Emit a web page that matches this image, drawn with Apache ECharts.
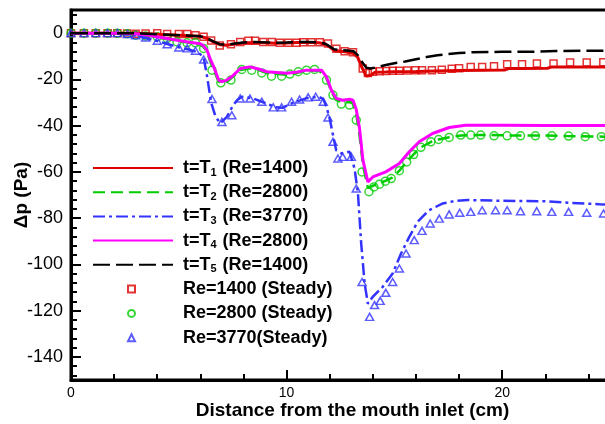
<!DOCTYPE html>
<html>
<head>
<meta charset="utf-8">
<script src="https://cdn.jsdelivr.net/npm/echarts@6/dist/echarts.min.js"></script>
<style>html,body{margin:0;padding:0;background:#fff}#c{width:605px;height:424px}</style>
</head>
<body>
<div id="c"></div>
<script>
// ---- tick labels ----
const xMajorTicks = [0, 10, 20];
const yMajorTicks = [-140, -120, -100, -80, -60, -40, -20, 0];

// ---- series names ----
const lineNames = ['t=T1 (Re=1400)', 't=T2 (Re=2800)', 't=T3 (Re=3770)', 't=T4 (Re=2800)', 't=T5 (Re=1400)'];
const steadyNames = ['Re=1400 (Steady)', 'Re=2800 (Steady)', 'Re=3770(Steady)'];

// ---- unsteady curves [x (cm), dp (Pa)] ----
const t1 = [[0,0],[1,0],[2,0],[3,-0.1],[3.5,-0.3],[4,-0.5],[4.5,-0.7],[5,-0.9],[5.5,-1.1],[6,-1.4],[6.3,-2.2],[6.6,-3.8],[6.9,-5.0],[7.2,-5.2],[7.6,-4.7],[8,-4.3],[8.5,-4.0],[9,-4.2],[9.5,-4.4],[10,-4.3],[10.5,-4.1],[11,-4.0],[11.5,-4.2],[11.8,-4.8],[12.0,-6.0],[12.2,-7.4],[12.5,-7.8],[12.8,-8.2],[13.1,-8.8],[13.3,-10.5],[13.5,-15],[13.7,-18.6],[13.9,-18.2],[14.1,-16.9],[14.6,-16.8],[15,-16.7],[16,-16.6],[17,-16.4],[18,-16.2],[19,-16.1],[20.1,-16.0],[20.3,-15.3],[21,-15.3],[22.1,-15.2],[22.3,-14.6],[23,-14.6],[24,-14.6],[25,-14.6]];
const t2 = [[0,0],[2,0],[3,-0.4],[3.5,-1],[4,-1.8],[4.5,-2.7],[5,-3.5],[5.5,-4.2],[6,-5],[6.15,-6],[6.31,-8],[6.45,-12],[6.62,-16],[6.85,-21],[7.0,-21.6],[7.23,-21],[7.5,-19],[7.85,-16],[8.3,-15.2],[8.7,-16],[9.08,-17.3],[10,-18],[10.5,-17.2],[10.92,-16.3],[11.5,-16.2],[11.85,-19.5],[12.08,-25.5],[12.3,-29],[12.6,-30],[12.92,-29.8],[13.08,-30.5],[13.23,-35],[13.38,-44],[13.54,-57],[13.77,-67],[14.0,-66],[14.3,-65],[14.6,-63.8],[14.9,-62.5],[15.23,-59.5],[15.57,-55.7],[15.9,-52.3],[16.23,-49.4],[16.7,-47],[17.05,-46],[17.54,-45],[18.1,-44.3],[19,-44],[20,-44.2],[22,-44.3],[23,-44.5],[25,-44.8]];
const t3 = [[0,0],[1,0],[2,-0.2],[2.5,-0.5],[3,-1.0],[3.5,-2.2],[4,-3.4],[4.5,-4.8],[5,-6.1],[5.5,-7.2],[5.9,-8.3],[6.15,-10.5],[6.3,-18],[6.5,-30],[6.7,-36],[6.92,-39],[7.23,-36.2],[7.5,-31.5],[7.7,-29],[7.92,-27.5],[8.46,-28.3],[9.0,-30.2],[9.5,-32.1],[9.8,-32.3],[10.3,-30.1],[10.9,-28.2],[11.5,-27.5],[11.7,-28.5],[11.85,-31.9],[12.0,-37],[12.15,-44],[12.3,-50.6],[12.54,-52],[12.92,-51.3],[13.15,-58.5],[13.31,-69.3],[13.46,-91],[13.62,-108.3],[13.77,-117],[13.85,-117.6],[14.0,-114],[14.46,-109.7],[14.92,-103.9],[15.31,-95.3],[15.69,-88.1],[16.08,-81.6],[16.6,-76.6],[17.23,-73.7],[17.85,-72.5],[18.4,-72.2],[20,-72.5],[22,-72.7],[23.2,-73.4],[24.5,-74],[25,-74.2]];
const t4 = [[0,0],[2,0],[3,-0.3],[3.5,-0.8],[4,-1.6],[4.5,-2.4],[5,-3.2],[5.5,-3.9],[6,-4.6],[6.15,-5.5],[6.31,-7.4],[6.45,-11],[6.62,-14.6],[6.85,-20.3],[7.0,-21],[7.23,-20.3],[7.5,-18.5],[7.85,-15.3],[8.3,-14.6],[8.7,-15.5],[9.08,-16.7],[10.0,-17.4],[10.5,-16.8],[10.92,-16],[11.62,-16],[11.85,-18.9],[12.08,-24.7],[12.3,-28.2],[12.6,-29],[12.92,-28.6],[13.08,-29],[13.23,-33],[13.38,-41],[13.54,-54.9],[13.77,-64.3],[14.0,-62.2],[14.6,-60],[15.23,-56.4],[15.69,-51.3],[16.15,-47],[16.77,-43.4],[17.54,-40.8],[18.3,-39.8],[20,-39.8],[22,-39.9],[25,-39.9]];
const t5 = [[0,0],[1,0],[2,0],[3,-0.1],[3.5,-0.3],[4,-0.5],[4.5,-0.7],[5,-0.9],[5.5,-1.1],[6,-1.4],[6.3,-2.2],[6.6,-3.6],[6.9,-4.8],[7.2,-5.0],[7.6,-4.5],[8,-4.1],[8.5,-3.8],[9,-4.0],[9.5,-4.2],[10,-4.1],[10.5,-3.9],[11,-3.8],[11.5,-4.0],[11.8,-4.6],[12.0,-5.8],[12.2,-7.0],[12.5,-7.4],[12.8,-7.5],[13.1,-7.8],[13.3,-9.5],[13.5,-12.5],[13.7,-15],[13.9,-15.3],[14.2,-14.7],[14.6,-13.8],[15,-13],[15.5,-12.3],[16,-11.3],[16.5,-10.3],[17,-9.6],[17.5,-9],[18,-8.6],[18.6,-8.3],[20,-8.1],[21.5,-8.1],[22.5,-7.7],[25,-7.6]];

// ---- steady data [x (cm), dp (Pa)] ----
const steady1400 = [[0,0],[0.6,0],[1.15,0],[1.7,0],[2.15,-0.1],[2.6,-0.2],[3.0,-0.3],[3.46,-0.2],[4.0,-0.1],[4.46,-0.4],[5.0,-0.4],[5.39,-0.4],[5.77,-0.9],[6.15,-1.6],[6.5,-3.2],[6.9,-5.4],[7.42,-4.8],[7.85,-3.8],[8.23,-3.3],[8.54,-3.3],[8.92,-3.8],[9.31,-3.8],[9.69,-4.2],[10.08,-4.2],[10.46,-4.2],[10.77,-3.9],[11.15,-3.9],[11.54,-3.9],[11.92,-4.5],[12.31,-6.8],[12.69,-7.8],[13.08,-8.3],[13.53,-15.3],[13.77,-17.2],[14.0,-16.7],[14.31,-16.5],[14.62,-16.4],[14.92,-16.3],[15.23,-16.3],[15.6,-16.2],[15.97,-16.1],[16.28,-16.0],[16.74,-16.0],[17.2,-15.8],[17.66,-15.4],[18.0,-15.2],[18.54,-14.6],[19.07,-14.6],[19.62,-14.3],[20.23,-13.5],[20.92,-13.5],[21.61,-13.1],[22.38,-13.1],[23.15,-12.7],[23.92,-12.7],[24.69,-12.6]];
const steady2800 = [[0,0],[0.6,0],[1.15,0],[1.7,0],[2.15,-0.1],[2.6,-0.3],[3.0,-0.9],[3.46,-1.2],[4.0,-1.6],[4.46,-2.3],[4.92,-3.8],[5.38,-4.2],[5.77,-4.2],[6.15,-6.6],[6.54,-16],[6.95,-21.5],[7.42,-20.3],[7.92,-15.7],[8.38,-16],[8.85,-17.2],[9.3,-18.6],[9.77,-18.6],[10.15,-17.7],[10.54,-16.7],[10.92,-16],[11.3,-15.7],[11.85,-20.3],[12.15,-26.8],[12.54,-30.7],[12.92,-31.1],[13.23,-37.6],[13.5,-60],[13.82,-68.6],[14.05,-66.5],[14.31,-65.3],[14.58,-64],[14.85,-62.9],[15.23,-59.5],[15.57,-55.7],[15.89,-52.5],[16.23,-49.4],[16.69,-47],[17.05,-46],[17.54,-45.1],[18.08,-44.1],[18.54,-44.1],[19.0,-44.1],[19.62,-44.4],[20.23,-44.4],[20.85,-44.4],[21.54,-44.4],[22.3,-44.4],[23.08,-44.5],[23.85,-44.8],[24.6,-44.8]];
const steady3770 = [[0,0],[0.61,0],[1.15,0],[1.69,0],[2.15,0],[2.62,-0.4],[3.0,-0.9],[3.46,-1.9],[4.0,-3.3],[4.46,-4.8],[5.0,-6.2],[5.39,-6.6],[5.77,-7.6],[6.15,-11.4],[6.54,-28.5],[7.0,-38.4],[7.46,-35.5],[7.85,-28.3],[8.3,-28.3],[8.85,-29.7],[9.38,-32.1],[9.77,-32.1],[10.23,-29.7],[10.6,-28.7],[11.0,-27.8],[11.35,-27.5],[11.7,-29.7],[11.92,-36.5],[12.15,-47],[12.38,-54.2],[12.6,-53.5],[13.0,-53.5],[13.23,-67.2],[13.5,-107.6],[13.85,-122.7],[14.08,-117.6],[14.34,-115.8],[14.6,-112.3],[14.92,-107.6],[15.23,-101.8],[15.54,-95.3],[15.92,-89.5],[16.28,-85.5],[16.66,-82.3],[17.08,-80.2],[17.54,-78.4],[18.03,-77.7],[18.54,-77.3],[19.07,-76.6],[19.69,-76.6],[20.23,-76.6],[20.85,-77],[21.6,-77],[22.3,-77.3],[23.08,-77.3],[23.92,-77.7],[24.7,-78]];

// ---- minor tick values ----
const xMinorTicks = [];
for (let v = 2; v <= 24; v += 2) if (v % 10 !== 0) xMinorTicks.push(v);
const yMinorTicks = [];
for (let v = -148; v <= 8; v += 4) if (v % 20 !== 0) yMinorTicks.push(v);

const FONT = 'Liberation Sans, Arial, Helvetica, sans-serif';
const chart = echarts.init(document.getElementById('c'), null, {renderer: 'canvas'});

function subFmt(name) {
  const m = name.match(/^t=T(\d)(.*)$/);
  if (!m) return '{b|' + name + '}';
  return '{b|t=T}{s|' + m[1] + '}{b|' + m[2] + '}';
}

const tickStyle = {color: '#000', width: 2};
const option = {
  animation: false,
  grid: {left: 71, top: 10, right: -5, bottom: 44, outerBoundsMode: 'none', containLabel: false,
         show: true, borderColor: '#000', borderWidth: 3, backgroundColor: 'transparent'},
  xAxis: [
    {type: 'value', min: 0, max: 25, position: 'bottom',
     axisLine: {onZero: false, lineStyle: {color: '#000', width: 3}},
     axisTick: {inside: true, length: 10, lineStyle: tickStyle, customValues: xMajorTicks},
     axisLabel: {customValues: xMajorTicks, fontSize: 14, color: '#000', margin: 6, fontFamily: FONT},
     splitLine: {show: false},
     name: 'Distance from the mouth inlet (cm)', nameLocation: 'middle', nameGap: 21, nameMoveOverlap: false,
     nameTextStyle: {fontSize: 19, fontWeight: 'bold', color: '#000', fontFamily: FONT, padding: [0, 0, 0, 24]}},
    {type: 'value', min: 0, max: 25, position: 'bottom',
     axisLine: {show: false, onZero: false},
     axisTick: {inside: true, length: 6, lineStyle: tickStyle, customValues: xMinorTicks},
     axisLabel: {show: false}, splitLine: {show: false}}
  ],
  yAxis: [
    {type: 'value', min: -150, max: 10, position: 'left',
     axisLine: {onZero: false, lineStyle: {color: '#000', width: 3}},
     axisTick: {inside: true, length: 10, lineStyle: tickStyle, customValues: yMajorTicks},
     axisLabel: {customValues: yMajorTicks, fontSize: 18, color: '#000', margin: 8, fontFamily: FONT},
     splitLine: {show: false},
     name: 'Δp (Pa)', nameLocation: 'middle', nameGap: 40, nameMoveOverlap: false,
     nameTextStyle: {fontSize: 19, fontWeight: 'bold', color: '#000', fontFamily: FONT}},
    {type: 'value', min: -150, max: 10, position: 'left',
     axisLine: {show: false, onZero: false},
     axisTick: {inside: true, length: 6, lineStyle: tickStyle, customValues: yMinorTicks},
     axisLabel: {show: false}, splitLine: {show: false}}
  ],
  legend: [
    {data: lineNames, orient: 'vertical', left: 92, top: 158, padding: 0, itemWidth: 80, itemHeight: 14, itemGap: 4.2,
     selectedMode: false, formatter: subFmt,
     itemStyle: {color: 'rgba(0,0,0,0)', borderColor: 'rgba(0,0,0,0)', borderWidth: 0, opacity: 0},
     textStyle: {color: '#000', padding: [0, 0, 0, 5],
       rich: {b: {fontSize: 18, fontWeight: 'bold', color: '#000', fontFamily: FONT, lineHeight: 20},
              s: {fontSize: 11, fontWeight: 'bold', color: '#000', fontFamily: FONT, lineHeight: 20, padding: [9, 1, 0, 0]}}}},
    {data: steadyNames, orient: 'vertical', left: 127, top: 279, padding: 0, itemWidth: 7, itemHeight: 7, itemGap: 4.4,
     selectedMode: false,
     textStyle: {color: '#000', fontSize: 18, fontWeight: 'bold', fontFamily: FONT, lineHeight: 20, padding: [0, 0, 0, 43]}}
  ],
  series: [
    {name: lineNames[0], type: 'line', data: t1, symbol: 'none', lineStyle: {color: '#dd0000', width: 3}, itemStyle: {color: '#dd0000'}},
    {name: lineNames[1], type: 'line', data: t2, symbol: 'none', lineStyle: {color: '#00cc00', width: 2.5, type: [12, 6]}, itemStyle: {color: '#00cc00'}},
    {name: lineNames[2], type: 'line', data: t3, symbol: 'none', lineStyle: {color: '#3333ff', width: 2.5, type: [12, 4, 3, 4]}, itemStyle: {color: '#3333ff'}},
    {name: lineNames[3], type: 'line', data: t4, symbol: 'none', lineStyle: {color: '#ff00ff', width: 3}, itemStyle: {color: '#ff00ff'}},
    {name: lineNames[4], type: 'line', data: t5, symbol: 'none', lineStyle: {color: '#000000', width: 2.5, type: [17, 6]}, itemStyle: {color: '#000000'}},
    {name: steadyNames[0], type: 'scatter', data: steady1400, symbol: 'rect', symbolSize: 7,
     itemStyle: {color: 'rgba(0,0,0,0)', borderColor: '#dd0000', borderWidth: 1.5}},
    {name: steadyNames[1], type: 'scatter', data: steady2800, symbol: 'circle', symbolSize: 8,
     itemStyle: {color: 'rgba(0,0,0,0)', borderColor: '#00cc00', borderWidth: 1.5}},
    {name: steadyNames[2], type: 'scatter', data: steady3770, symbol: 'triangle', symbolSize: [8, 7],
     itemStyle: {color: 'rgba(0,0,0,0)', borderColor: '#3333ff', borderWidth: 1.5}}
  ]
};
chart.setOption(option);
</script>
</body>
</html>
